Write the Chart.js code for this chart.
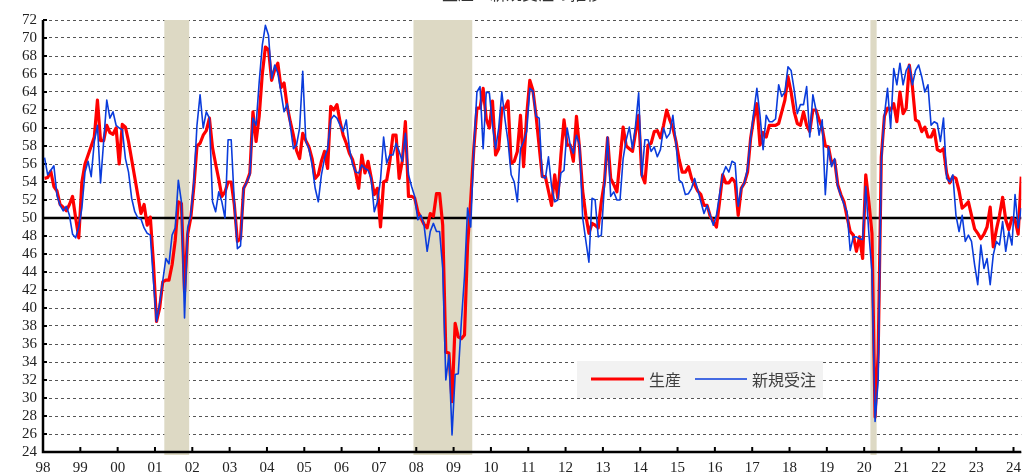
<!DOCTYPE html>
<html>
<head>
<meta charset="utf-8">
<script src="https://cdn.jsdelivr.net/npm/chart.js@4.4.1/dist/chart.umd.min.js"></script>
<style>
html, body { margin: 0; padding: 0; background: #fff; }
#wrap { width: 1028px; height: 475px; }
</style>
</head>
<body>
<div id="wrap"><canvas id="pmiChart" width="1028" height="475"></canvas></div>
<script>
// 年ラベル (1998年1月から月次)
var yearLabels = ['98','99','00','01','02','03','04','05','06','07','08','09','10',
                  '11','12','13','14','15','16','17','18','19','20','21','22','23','24'];

// 生産 (月次, 1998/1 - 2024/3)
var production = [
  54.4, 54.5, 55.2, 53.5, 53, 51.5, 51.2, 50.8, 51.5, 52.4, 50, 47.8,      // 98
  54, 56, 57, 58, 59, 63.1, 58.6, 58.6, 60.3, 59.5, 59.3, 60,              // 99
  56, 60.4, 60.1, 58.5, 56.5, 54.5, 52.5, 50.5, 51.5, 49.2, 50.1, 45,      // 00
  38.5, 40, 42.9, 43.1, 43.1, 44.8, 47.5, 51.8, 51.6, 41.8, 48.2, 50,      // 01
  53.5, 58, 58.3, 59.2, 59.7, 61.1, 57.8, 56, 54.3, 52.4, 52.9, 54,        // 02
  54, 51.5, 47.4, 47.7, 53.3, 54, 55, 61.8, 58.5, 61.3, 66, 69,            // 03
  68.7, 65.3, 66.5, 67.2, 64.5, 65, 62.4, 60.7, 59.2, 57.5, 56.6, 59.4,    // 04
  58.6, 57.9, 56.6, 54.4, 54.8, 56.3, 57.4, 55.5, 62.4, 62, 62.6, 60.7,    // 05
  59.2, 58.3, 57.2, 56.5, 55.1, 53.3, 57, 55, 56.3, 54.5, 52.6, 53.3,      // 06
  49, 54, 54.2, 56.3, 59.2, 59.2, 54.4, 56.3, 60.7, 52.4, 52.4, 52.2,      // 07
  50.7, 50, 49.3, 48.9, 50.5, 50.2, 52.7, 52.7, 49.2, 35.1, 35, 29.6,      // 08
  38.3, 36.8, 36.6, 37, 47, 52, 57.7, 62.2, 62.2, 64.4, 61, 60,            // 09
  63, 57, 57.7, 62.2, 62.2, 63, 56.1, 56.3, 57.4, 61.4, 55.7, 61.4,        // 10
  65.3, 64.2, 61.4, 58, 54.6, 54.6, 53, 51.4, 54.8, 52.2, 57, 60.9,        // 11
  58.1, 58.1, 56.3, 61.3, 57.7, 53, 50.3, 48.3, 49.4, 49.2, 48.9, 51.8,    // 12
  54, 58.9, 54.4, 53.7, 52.9, 56.5, 60.1, 58, 57.7, 57.4, 59.5, 61.4,      // 13
  54.8, 53.9, 58.1, 58.3, 59.6, 59.7, 58.9, 60.3, 62, 60.9, 60, 58.5,      // 14
  56.5, 55.1, 55.1, 55.7, 54.4, 53.7, 53, 52.6, 51.4, 51.4, 50.2, 49.6,    // 15
  49, 51.8, 54.8, 53.9, 53.9, 54.4, 54, 50.3, 53.3, 53.9, 55.1, 58.9,      // 16
  61.1, 62.7, 58.1, 59.5, 59, 60.3, 60.3, 60.3, 60.5, 61.8, 63.1, 65.7,    // 17
  64, 61.8, 60.5, 60.3, 61.8, 60.3, 59.6, 62, 62, 60.9, 60, 58,            // 18
  57.9, 56.1, 56.4, 53.7, 52.6, 51.8, 50.1, 48.5, 48.1, 46.3, 47.9, 45.5,  // 19
  54.8, 51.8, 48.3, 27.9, 35, 56.8, 61.3, 62.2, 62, 62.7, 60.7, 64,        // 20
  61.6, 62.2, 67, 64.6, 60.9, 60.7, 59.6, 60.1, 59, 59, 59.8, 57.6,        // 21
  57.4, 57.7, 55, 53.9, 54.6, 54.4, 53, 51.1, 51.4, 51.8, 50.3, 48.8,      // 22
  48.3, 47.7, 48.2, 49, 51.2, 46.8, 48.7, 50.3, 52.3, 49.8, 48.7, 50,      // 23
  49.8, 48.2, 54.6                                                          // 24
];

// 新規受注
var newOrders = [
  56.7, 54.8, 55.3, 55.8, 52.5, 51.4, 50.8, 51.3, 50.3, 48.2, 47.8, 49,    // 98
  51.1, 55.1, 56.3, 54.6, 58.5, 60.3, 53.9, 58.5, 63.1, 61.1, 61.8, 60.3,  // 99
  60, 59.8, 56.6, 55.1, 52.2, 50.7, 50, 49.9, 48.9, 48.3, 48.1, 43,        // 00
  38.5, 40.5, 43, 45.5, 44.9, 48.1, 48.9, 54.2, 51.8, 38.9, 48.9, 50.3,    // 01
  54, 60.3, 63.7, 60, 61.8, 61.1, 51.8, 50.7, 52.9, 51.8, 50, 58.7,        // 02
  58.7, 51.8, 46.6, 46.9, 53.3, 54, 54.8, 61.1, 60.3, 65.1, 69.2, 71.4,    // 03
  70.3, 65.5, 67, 66.1, 64, 61.8, 62.7, 60.3, 57.7, 58.1, 60, 66.3,        // 04
  58.5, 57.7, 55.9, 53.3, 51.8, 54.8, 56.6, 57.7, 60.9, 61.4, 61.1, 60.3,  // 05
  59.6, 60.9, 57.7, 56, 55.1, 55, 55.9, 55.5, 55.3, 54.4, 50.7, 51.8,      // 06
  54.2, 59, 56.1, 57, 57, 58.3, 57.4, 56.3, 59.4, 54.8, 53.5, 52.4,        // 07
  49.8, 50.3, 49.2, 46.3, 48.5, 49.4, 48.5, 48.5, 44.4, 32, 34.8, 25.9,    // 08
  32.6, 32.7, 38.5, 43.5, 51.1, 49, 57.7, 64, 64.6, 57.7, 64, 63.9,        // 09
  60.3, 57.7, 60, 64, 61, 58.5, 54.8, 54, 51.8, 57.7, 58.5, 59.6,          // 10
  64.4, 64.1, 61.3, 61.1, 54.6, 54.4, 56.8, 53.5, 51.8, 52, 55, 55.3,      // 11
  60, 58.1, 57.2, 59.2, 58.1, 50, 47.5, 45.1, 52.2, 52, 47.9, 48.1,        // 12
  53.7, 59, 52.4, 52.9, 52, 52, 56.6, 58.7, 60.1, 57.7, 60.3, 63.9,        // 13
  54.6, 58.7, 58.7, 57.4, 57.9, 56.8, 57.6, 60, 58.9, 59.4, 61.4, 58.3,    // 14
  54.2, 53.9, 52.6, 52.7, 53.3, 54.4, 53.1, 51.8, 50.5, 51.4, 50.3, 49.2,  // 15
  50.3, 52.6, 54.8, 55.7, 55.1, 56.3, 56.1, 51.3, 53.3, 53.9, 55.5, 58.9,  // 16
  61.8, 64.4, 61.4, 57.6, 61.4, 60.7, 60.7, 61, 64.8, 63.5, 64, 66.8,      // 17
  66.4, 64.2, 61.6, 62.6, 62.6, 64.6, 59, 63.7, 62, 59.2, 60.9, 52.6,      // 18
  57.9, 55.7, 56.6, 53.5, 52.5, 51.5, 50.7, 46.4, 47.9, 47.9, 47.7, 47.6,  // 19
  53.5, 48.3, 44, 27.4, 32, 56.3, 61.4, 64.4, 60, 66.6, 64.8, 67.2,        // 20
  64.8, 66.4, 67, 64.8, 66.4, 67, 65.7, 64, 64.8, 60.3, 60.7, 60.5,        // 21
  58.5, 61.1, 54.4, 54, 54.8, 50.3, 48.5, 50.3, 47.4, 48.1, 47.4, 44.8,    // 22
  42.6, 47, 44.4, 45.5, 42.6, 45.9, 47.4, 47, 49.6, 46.3, 48.5, 47,        // 23
  52.6, 48.9, 51.1                                                          // 24
];

// 景気後退期 (1998年1月からの月数)
var recessions = [[39, 47], [119.1, 138], [266, 268]];

function toPoints(arr) {
    return arr.map(function(v, i) { return { x: i + 0.5, y: v }; });
}

var serif = 'Liberation Serif, DejaVu Serif, serif';
var gothic = 'Noto Sans CJK JP, sans-serif';

// 網掛け・50ライン・軸・凡例
var decor = {
    id: 'decor',
    beforeDatasetsDraw: function(chart) {
        var ctx = chart.ctx, xs = chart.scales.x, ys = chart.scales.y, a = chart.chartArea;
        ctx.save();
        ctx.fillStyle = '#DDD9C4';
        recessions.forEach(function(r) {
            var x1 = xs.getPixelForValue(r[0]), x2 = xs.getPixelForValue(r[1]);
            ctx.fillRect(x1, a.top, x2 - x1, a.bottom - a.top + 3);
        });

        var y50 = ys.getPixelForValue(50);
        ctx.strokeStyle = '#000';
        ctx.lineWidth = 2.5;
        ctx.beginPath();
        ctx.moveTo(a.left, y50);
        ctx.lineTo(a.right, y50);
        ctx.stroke();

        // 軸線
        ctx.lineWidth = 2.5;
        ctx.beginPath();
        ctx.moveTo(a.left, a.top);
        ctx.lineTo(a.left, a.bottom);
        ctx.lineTo(a.right, a.bottom);
        ctx.stroke();

        // 目盛り
        ctx.lineWidth = 2;
        ctx.beginPath();
        yearLabels.forEach(function(l, i) {
            var x = xs.getPixelForValue(i * 12);
            ctx.moveTo(x, a.bottom);
            ctx.lineTo(x, a.bottom - 5);
        });
        for (var v = 24; v <= 72; v += 2) {
            var y = ys.getPixelForValue(v);
            ctx.moveTo(a.left, y);
            ctx.lineTo(a.left + 4, y);
        }
        ctx.stroke();
        ctx.restore();
    },
    afterDraw: function(chart) {
        var ctx = chart.ctx;
        ctx.save();
        // 上端で切れているタイトル
        ctx.fillStyle = '#333';
        ctx.font = '16px ' + gothic;
        ctx.textAlign = 'center';
        ctx.textBaseline = 'alphabetic';
        ctx.fillText('生産・新規受注の推移', 522, 0);

        ctx.textAlign = 'left';
        ctx.fillStyle = '#F2F2F2';
        ctx.fillRect(577, 361, 246, 37);
        ctx.lineWidth = 3;
        ctx.strokeStyle = '#FF0000';
        ctx.beginPath(); ctx.moveTo(591, 379); ctx.lineTo(644, 379); ctx.stroke();
        ctx.lineWidth = 1.6;
        ctx.strokeStyle = '#0A3CDC';
        ctx.beginPath(); ctx.moveTo(695, 379); ctx.lineTo(747, 379); ctx.stroke();
        ctx.fillStyle = '#404040';
        ctx.font = '16px ' + gothic;
        ctx.textBaseline = 'middle';
        ctx.fillText('生産', 649, 380);
        ctx.fillText('新規受注', 752, 380);
        ctx.restore();
    }
};

var ctx = document.getElementById('pmiChart').getContext('2d');
var pmiChart = new Chart(ctx, {
    type: 'line',
    data: {
        datasets: [{
            label: '生産',
            data: toPoints(production),
            borderColor: '#FF0000',
            borderWidth: 3.2,
            order: 2
        }, {
            label: '新規受注',
            data: toPoints(newOrders),
            borderColor: '#0A3CDC',
            borderWidth: 1.6,
            order: 1
        }]
    },
    options: {
        responsive: false,
        animation: false,
        events: [],
        layout: { padding: { top: 20, right: 0, left: 0, bottom: 0 } },
        elements: {
            point: { radius: 0 },
            line: { tension: 0, borderJoinStyle: 'round', fill: false }
        },
        plugins: {
            legend: { display: false },
            tooltip: { enabled: false }
        },
        scales: {
            x: {
                type: 'linear',
                min: 0,
                max: 314.5,
                afterBuildTicks: function(s) {
                    s.ticks = yearLabels.map(function(l, i) { return { value: i * 12 }; });
                },
                afterFit: function(s) { s.height = 23; },
                grid: { display: false, drawTicks: false },
                border: { display: false },
                ticks: {
                    autoSkip: false,
                    maxRotation: 0,
                    padding: 7,
                    color: '#222',
                    font: { family: serif, size: 15 },
                    callback: function(v) { return yearLabels[Math.round(v / 12)]; }
                }
            },
            y: {
                min: 24,
                max: 72,
                afterFit: function(s) { s.width = 43; },
                grid: {
                    drawTicks: false,
                    lineWidth: 1,
                    color: function(c) { return c.tick && c.tick.value === 50 ? 'rgba(0,0,0,0)' : '#555'; }
                },
                border: { display: false, dash: [3, 3] },
                ticks: {
                    stepSize: 2,
                    autoSkip: false,
                    padding: 6,
                    color: '#222',
                    font: { family: serif, size: 15 }
                }
            }
        }
    },
    plugins: [decor]
});
</script>
</body>
</html>
